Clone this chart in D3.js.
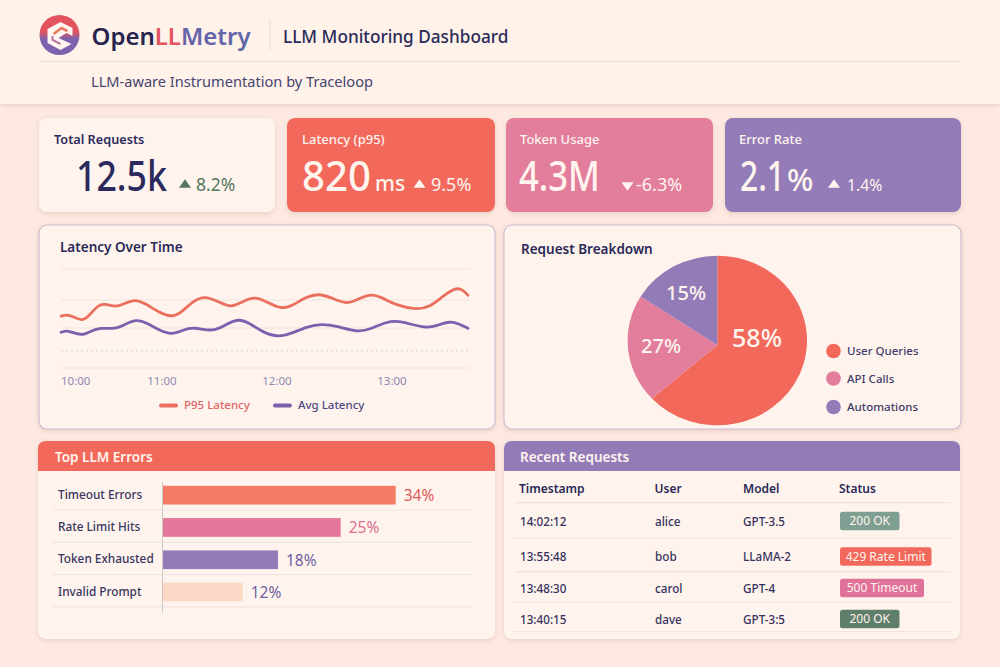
<!DOCTYPE html>
<html>
<head>
<meta charset="utf-8">
<title>OpenLLMetry - LLM Monitoring Dashboard</title>
<script src="https://cdn.jsdelivr.net/npm/d3@7"></script>
<style>
    html, body { margin: 0; padding: 0; background: #fde9e1; }
    svg { display: block; }
    text { font-family: "Noto Sans", sans-serif; }
</style>
</head>
<body>
<div id="chart"></div>
<script>
// KPI cards
const kpiLabels = ['Total Requests', 'Latency (p95)', 'Token Usage', 'Error Rate'];
const kpiValues = ['12.5k', '820', '4.3M', '2.1'];
const kpiUnits = ['', 'ms', '', '%'];
const kpiDeltas = ['8.2%', '9.5%', '-6.3%', '1.4%'];

// Latency lines: minutes after 10:00, ms
const p95Minutes = [0, 3.4, 7.3, 12.3, 16.2, 22.2, 26.1, 33, 38, 43.9, 49.9, 57.8, 65, 70.3, 76.3, 82.4, 89.4, 96.3, 102.4, 108.5, 114.6, 122.4, 128.5, 135.5, 141.6, 148.5, 156.3, 162.4, 169.4, 175.5, 182.4, 192.9, 199.8, 206.8, 213.8, 217.3, 220];
const p95Latency = [525, 539, 518, 475, 518, 640, 650, 613, 653, 695, 653, 566, 510, 562, 680, 730, 670, 605, 677, 722, 670, 590, 636, 720, 752, 710, 640, 697, 755, 704, 633, 588, 613, 727, 815, 790, 734];
const avgMinutes = [0, 3.4, 8.3, 13.3, 17.2, 23.2, 32.1, 38, 44.9, 50.9, 58.8, 65, 71.1, 76.3, 86.8, 92.9, 99.8, 105.9, 112.9, 120.7, 127.7, 135.5, 143.3, 151.1, 162.4, 168.5, 177.2, 184.2, 198.1, 204.2, 210.6, 215.5, 220];
const avgLatency = [360, 380, 350, 332, 367, 410, 391, 441, 492, 458, 377, 335, 384, 415, 364, 434, 502, 451, 357, 310, 350, 417, 448, 424, 360, 391, 468, 480, 394, 434, 474, 444, 401];
const timeTicks = [0, 60, 120, 180];
const timeLabels = ['10:00', '11:00', '12:00', '13:00'];
const gridLevels = [1000, 687, 404, 0];
const dottedLevel = 172;

// Pie: the wedges in the picture are not drawn to their printed shares,
// so the sweep is read off the picture and the labels are kept as printed
const breakdownNames = ['User Queries', 'API Calls', 'Automations'];
const breakdownSweep = [63, 20.7, 16.3];
const breakdownLabels = ['58%', '27%', '15%'];

// Error bars
const errorNames = ['Timeout Errors', 'Rate Limit Hits', 'Token Exhausted', 'Invalid Prompt'];
const errorShares = [34, 25, 18, 12];

// Requests table
const tableHeads = ['Timestamp', 'User', 'Model', 'Status'];
const requestTimes = ['14:02:12', '13:55:48', '13:48:30', '13:40:15'];
const requestUsers = ['alice', 'bob', 'carol', 'dave'];
const requestModels = ['GPT-3.5', 'LLaMA-2', 'GPT-4', 'GPT-3:5'];
const requestStatus = ['200 OK', '429 Rate Limit', '500 Timeout', '200 OK'];

const INK = '#2b2a5c';
const CORAL = '#f2695c';
const PINK = '#e27d9c';
const PURPLE = '#937bb8';
const CARD = '#fff4ed';

const svg = d3.select('#chart').append('svg')
    .attr('width', 1000)
    .attr('height', 667);

const defs = svg.append('defs');

const shadow = defs.append('filter').attr('id', 'shadow')
    .attr('x', '-5%').attr('y', '-10%').attr('width', '110%').attr('height', '125%');
shadow.append('feDropShadow')
    .attr('dx', 0).attr('dy', 1.5).attr('stdDeviation', 2)
    .attr('flood-color', '#a87f78').attr('flood-opacity', 0.25);

const logoGrad = defs.append('linearGradient').attr('id', 'logo-grad')
    .attr('x1', 0).attr('x2', 0).attr('y1', 0).attr('y2', 1);
logoGrad.append('stop').attr('offset', '42%').attr('stop-color', '#e2525f');
logoGrad.append('stop').attr('offset', '60%').attr('stop-color', '#7d62ae');

const metryGrad = defs.append('linearGradient').attr('id', 'metry-grad')
    .attr('x1', 0).attr('x2', 1).attr('y1', 0).attr('y2', 0);
metryGrad.append('stop').attr('offset', '0%').attr('stop-color', '#7258a8');
metryGrad.append('stop').attr('offset', '100%').attr('stop-color', '#5f68a8');

function label(g, x, y, str, size, color, weight, anchor) {
    return g.append('text')
        .attr('x', x)
        .attr('y', y)
        .attr('font-size', size)
        .attr('fill', color)
        .attr('font-weight', weight || 400)
        .attr('text-anchor', anchor || 'start')
        .text(str);
}

function card(x, y, w, h, fill, border) {
    return svg.append('rect')
        .attr('x', x).attr('y', y)
        .attr('width', w).attr('height', h)
        .attr('rx', 8)
        .attr('fill', fill)
        .attr('stroke', border || 'none')
        .attr('stroke-width', border ? 1.1 : 0)
        .attr('filter', 'url(#shadow)');
}

function topBand(x, y, w, h, fill) {
    const r = 8;
    svg.append('path')
        .attr('d', `M${x},${y + h}V${y + r}Q${x},${y} ${x + r},${y}H${x + w - r}Q${x + w},${y} ${x + w},${y + r}V${y + h}Z`)
        .attr('fill', fill);
}

// ---- page + header
svg.append('rect').attr('width', 1000).attr('height', 667).attr('fill', '#fde9e1');
svg.append('rect').attr('width', 1000).attr('height', 104).attr('fill', '#fff2e9').attr('filter', 'url(#shadow)');

const logo = svg.append('g').attr('transform', 'translate(59.5,35)');
logo.append('circle').attr('r', 20).attr('fill', 'url(#logo-grad)');
logo.append('path')
    .attr('d', 'M1,-13 L13,-7 L13,1 L7,-2 L-1,3 L12,9 L1,15 L-12,8 L-12,-6 Z')
    .attr('fill', '#fff6f0');
logo.append('path')
    .attr('d', 'M-6,-1 L2,-7 L8,-4')
    .attr('fill', 'none').attr('stroke', '#ec7a5e').attr('stroke-width', 2.6);
logo.append('path')
    .attr('d', 'M-7,1 L-7,5 L1,9')
    .attr('fill', 'none').attr('stroke', '#b96f9f').attr('stroke-width', 2);

const brand = label(svg, 91.5, 45, 'Open', 24, '#27244f', 600);
brand.append('tspan').attr('fill', '#e4565f').text('LL');
brand.append('tspan').attr('fill', 'url(#metry-grad)').text('Metry');

svg.append('line').attr('x1', 270).attr('x2', 270).attr('y1', 20).attr('y2', 50)
    .attr('stroke', '#e6dad6').attr('stroke-width', 1);
label(svg, 283, 43, 'LLM Monitoring Dashboard', 17.2, '#2c2a5a', 500);
svg.append('line').attr('x1', 40).attr('x2', 960).attr('y1', 61.5).attr('y2', 61.5)
    .attr('stroke', '#e8dcdc').attr('stroke-width', 1.2);
label(svg, 91, 87, 'LLM-aware Instrumentation by Traceloop', 14.6, '#47446f');

// ---- KPI cards
const kpiBoxes = [[39, 236], [287, 208], [506, 207], [725, 236]];
const kpiFills = [CARD, CORAL, PINK, PURPLE];
const kpiText = [INK, '#fff4ee', '#fff4ee', '#fff4ee'];
const kpiLabelX = [54, 302, 520, 739];
const kpiValueX = [76, 302, 519, 740];
const kpiValueWidth = [91, 69, 81, 45];
const kpiUnitX = [0, 375, 0, 787];
const kpiUnitSize = [0, 21, 0, 31];
const kpiDeltaX = [196, 431, 636, 847];
const kpiDeltaSize = [17.5, 18, 18, 15.8];
const kpiDeltaColor = ['#55785e', '#fff4ee', '#fff4ee', '#fff4ee'];
const kpiArrowX = [185, 419.5, 627.5, 834];

kpiLabels.forEach((name, i) => {
    card(kpiBoxes[i][0], 118, kpiBoxes[i][1], 94, kpiFills[i]);
    label(svg, kpiLabelX[i], 144, name, i === 0 ? 12.7 : 13, kpiText[i], i === 0 ? 600 : 500);

    // big numbers are taller and narrower than the font's own proportions
    const value = label(svg, 0, 0, kpiValues[i], 41, kpiText[i], 500);
    const squeeze = kpiValueWidth[i] / value.node().getComputedTextLength();
    value.attr('transform', `translate(${kpiValueX[i]},191) scale(${squeeze},1)`);

    if (kpiUnits[i]) label(svg, kpiUnitX[i], 191, kpiUnits[i], kpiUnitSize[i], kpiText[i], 500);
    label(svg, kpiDeltaX[i], 191, kpiDeltas[i], kpiDeltaSize[i], kpiDeltaColor[i]);

    const down = kpiDeltas[i].startsWith('-');
    svg.append('path')
        .attr('d', d3.symbol().type(d3.symbolTriangle).size(58)())
        .attr('transform', `translate(${kpiArrowX[i]},185) scale(1.05,0.85) rotate(${down ? 180 : 0})`)
        .attr('fill', kpiDeltaColor[i]);
});

// ---- latency panel
card(39, 225, 456, 204, CARD, '#cdbad0');
label(svg, 60, 252, 'Latency Over Time', 13.5, '#2a2858', 600);

const xTime = d3.scaleLinear()
    .domain([0, 60, 120, 180, 220])
    .range([61, 162, 277, 392, 468]);
const yLatency = d3.scaleLinear().domain([0, 1000]).range([368, 269]);

svg.append('g').selectAll('line').data(gridLevels).join('line')
    .attr('x1', 61).attr('x2', 470)
    .attr('y1', d => yLatency(d)).attr('y2', d => yLatency(d))
    .attr('stroke', '#efe4de').attr('stroke-width', 1.2);
svg.append('line')
    .attr('x1', 61).attr('x2', 470)
    .attr('y1', yLatency(dottedLevel)).attr('y2', yLatency(dottedLevel))
    .attr('stroke', '#d9d0cf').attr('stroke-width', 1.1).attr('stroke-dasharray', '2 3');

const latencyLine = d3.line()
    .x(d => xTime(d[0]))
    .y(d => yLatency(d[1]))
    .curve(d3.curveBasis);

svg.append('path')
    .datum(d3.zip(p95Minutes, p95Latency))
    .attr('fill', 'none')
    .attr('stroke', '#ea6f5e')
    .attr('stroke-width', 2.8)
    .attr('stroke-linecap', 'round')
    .attr('d', latencyLine);
svg.append('path')
    .datum(d3.zip(avgMinutes, avgLatency))
    .attr('fill', 'none')
    .attr('stroke', '#7d5fae')
    .attr('stroke-width', 2.8)
    .attr('stroke-linecap', 'round')
    .attr('d', latencyLine);

timeTicks.forEach((t, i) => {
    label(svg, xTime(t), 385, timeLabels[i], 11.5, '#8f88b0', 400, i === 0 ? 'start' : 'middle');
});

svg.append('line').attr('x1', 161).attr('x2', 176).attr('y1', 405.5).attr('y2', 405.5)
    .attr('stroke', '#ea6f5e').attr('stroke-width', 4).attr('stroke-linecap', 'round');
label(svg, 184, 409, 'P95 Latency', 11.5, '#dd6468', 500);
svg.append('line').attr('x1', 275).attr('x2', 290).attr('y1', 405.5).attr('y2', 405.5)
    .attr('stroke', '#7d5fae').attr('stroke-width', 4).attr('stroke-linecap', 'round');
label(svg, 298, 409, 'Avg Latency', 11.5, '#4f4882', 500);

// ---- breakdown panel
card(504, 225, 457, 204, CARD, '#cdbad0');
label(svg, 521, 254, 'Request Breakdown', 13.5, '#2a2858', 600);

const pieColors = d3.scaleOrdinal().domain(breakdownNames).range([CORAL, PINK, PURPLE]);
const pieSlices = d3.pie().sort(null)(breakdownSweep);
const pieArc = d3.arc().innerRadius(0).outerRadius(89.7);

// the wedge tip sits a little below the middle of the oval in the picture
svg.append('g')
    .attr('transform', 'translate(717.3,340.5) scale(1,0.945)')
    .selectAll('path').data(pieSlices).join('path')
    .attr('d', d => pieArc(d).replace('L0,0Z', 'L0,4.76Z'))
    .attr('fill', (d, i) => pieColors(breakdownNames[i]));

const pieLabelX = [757, 661, 686];
const pieLabelY = [347, 353, 300];
const pieLabelSize = [25, 20, 20];
breakdownLabels.forEach((t, i) => {
    label(svg, pieLabelX[i], pieLabelY[i], t, pieLabelSize[i], '#fff4ee', 500, 'middle');
});

const legendY = [351, 378.5, 407];
breakdownNames.forEach((name, i) => {
    svg.append('circle').attr('cx', 833.5).attr('cy', legendY[i]).attr('r', 7.3)
        .attr('fill', pieColors(name));
    label(svg, 847, legendY[i] + 4, name, 11.5, '#3f3c6a', 500);
});

// ---- errors panel
card(38, 441, 457, 198, CARD);
topBand(38, 441, 457, 30, CORAL);
label(svg, 55, 462, 'Top LLM Errors', 13.5, '#fff4ee', 600);

// bars in the picture are not strictly proportional, hence the stepped range
const xShare = d3.scaleLinear().domain([0, 12, 18, 25, 34]).range([163, 242.7, 278, 340.7, 395.7]);
const yError = d3.scaleBand().domain(errorNames).range([479, 608.2]).paddingInner(0.42).paddingOuter(0.21);
const errorFills = ['#f47c66', '#e4789b', PURPLE, '#fcd8c6'];
const errorTextFills = ['#e0595a', '#dd6e8e', '#6e5f9f', '#6e5f9f'];

errorNames.forEach(name => {
    const lineY = yError(name) + yError.bandwidth() + 5.5;
    svg.append('line').attr('x1', 52).attr('x2', 472).attr('y1', lineY).attr('y2', lineY)
        .attr('stroke', '#f0e6e0').attr('stroke-width', 1.2);
});

svg.append('g').selectAll('rect').data(errorShares).join('rect')
    .attr('x', xShare(0))
    .attr('y', (d, i) => yError(errorNames[i]))
    .attr('width', d => xShare(d) - xShare(0))
    .attr('height', yError.bandwidth())
    .attr('fill', (d, i) => errorFills[i]);

svg.append('line').attr('x1', 162.5).attr('x2', 162.5).attr('y1', 482).attr('y2', 613)
    .attr('stroke', '#cfc8c8').attr('stroke-width', 1);

errorNames.forEach((name, i) => {
    const mid = yError(name) + yError.bandwidth() / 2;
    label(svg, 58, mid + 3.5, name, 11.8, '#37345f', 500);
    label(svg, xShare(errorShares[i]) + 8, mid + 6, errorShares[i] + '%', 15.5, errorTextFills[i]);
});

// ---- requests panel
card(504, 441, 456, 198, CARD);
topBand(504, 441, 456, 30, PURPLE);
label(svg, 520, 462, 'Recent Requests', 13.5, '#fff4ee', 600);

const columnX = [519, 654.5, 743, 839];
tableHeads.forEach((h, i) => label(svg, columnX[i], 493, h, 12, '#2a2858', 600));

const rowLineY = [502.7, 538, 571.7, 602, 631.7];
rowLineY.forEach(y => {
    svg.append('line').attr('x1', 514).attr('x2', 951).attr('y1', y).attr('y2', y)
        .attr('stroke', '#efe4e0').attr('stroke-width', 1.2);
});

const rowY = [521, 556.5, 588, 619];
const pillWidth = [59.5, 91.5, 84, 59.5];
const pillFills = ['#7f9f92', CORAL, '#e0729a', '#5f7f6c'];
requestTimes.forEach((t, i) => {
    label(svg, 520, rowY[i] + 4.5, t, 11.7, '#35325e', 500);
    label(svg, 655, rowY[i] + 4.5, requestUsers[i], 11.7, '#35325e', 500);
    label(svg, 743, rowY[i] + 4.5, requestModels[i], 11.7, '#35325e', 500);
    svg.append('rect')
        .attr('x', 840).attr('y', rowY[i] - 9.3)
        .attr('width', pillWidth[i]).attr('height', 18.6)
        .attr('rx', 2.5)
        .attr('fill', pillFills[i]);
    label(svg, 840 + pillWidth[i] / 2, rowY[i] + 4.3, requestStatus[i], 12, '#fff4ee', 400, 'middle');
});
</script>
</body>
</html>
